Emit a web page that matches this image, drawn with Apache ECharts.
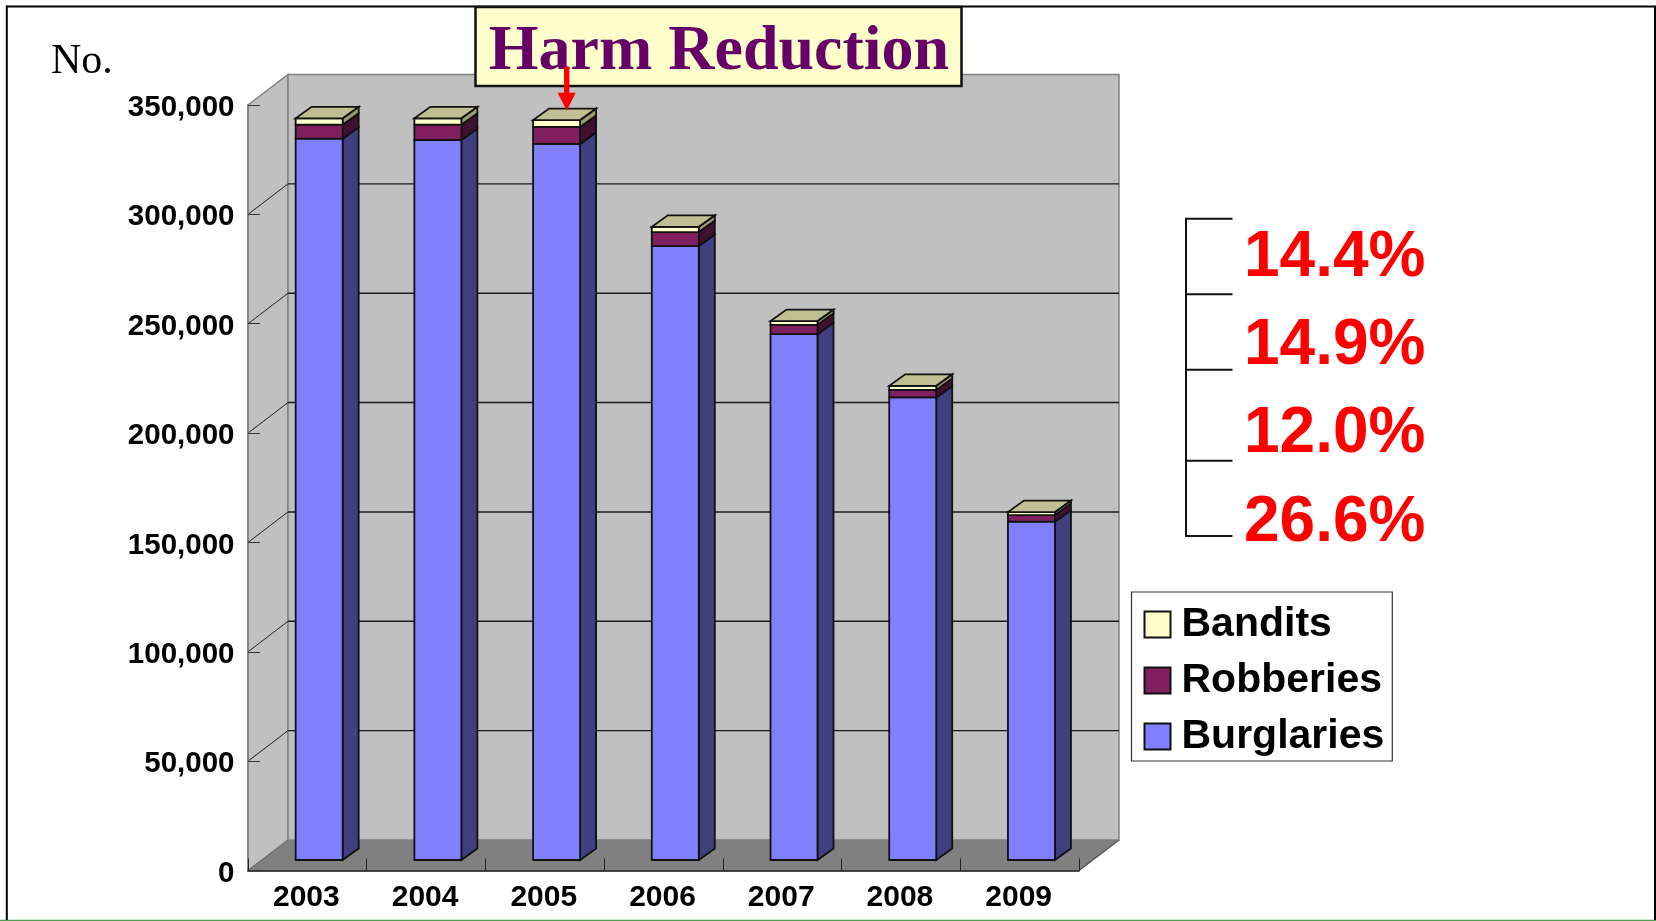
<!DOCTYPE html>
<html>
<head>
<meta charset="utf-8">
<title>Harm Reduction</title>
<script src="https://cdn.jsdelivr.net/npm/echarts@6/dist/echarts.min.js"></script>
<style>
  html, body { margin: 0; padding: 0; background: #fff; }
  #chart { width: 1656px; height: 921px; }
</style>
</head>
<body>
<div id="chart"></div>
<script>
// Recorded cases per year
const years = ['2003', '2004', '2005', '2006', '2007', '2008', '2009'];
const burglaries = [329800, 329200, 327400, 280700, 240400, 211500, 154700];
const robberies = [6400, 7000, 7800, 6400, 4300, 3400, 3000];
const bandits = [2900, 2900, 3100, 2400, 1700, 1900, 1400];
const gridValues = [50000, 100000, 150000, 200000, 250000, 300000];
const declines = ['14.4%', '14.9%', '12.0%', '26.6%'];

// Pseudo-3D geometry, in pixels
const WALL_DX = 40, WALL_DY = -30.5;
const BAR_SHIFT_X = 11.8, BAR_SHIFT_Y = -10.5;
const BAR_W = 47, SIDE_DX = 16, SIDE_DY = -11.5;

const INK = '#111111';
const EDGE = '#808080';

function poly(points, fill, stroke, lineWidth) {
  return {
    type: 'polygon',
    silent: true,
    shape: { points },
    style: { fill, stroke: stroke || 'none', lineWidth: lineWidth === undefined ? 1.8 : lineWidth }
  };
}

function segment(x1, y1, x2, y2, stroke, lineWidth) {
  return {
    type: 'line',
    silent: true,
    shape: { x1, y1, x2, y2 },
    style: { stroke, lineWidth: lineWidth || 1 }
  };
}

// Back wall, side wall and floor behind the bars
function renderWalls(params) {
  const c = params.coordSys;
  const l = c.x, t = c.y, r = c.x + c.width, b = c.y + c.height;
  const dx = WALL_DX, dy = WALL_DY;
  return {
    type: 'group',
    children: [
      poly([[l, t], [l + dx, t + dy], [l + dx, b + dy], [l, b]], '#C0C0C0', EDGE, 1.5),
      poly([[l + dx, t + dy], [r + dx, t + dy], [r + dx, b + dy], [l + dx, b + dy]], '#C0C0C0', EDGE, 1.5),
      poly([[l, b], [l + dx, b + dy], [r + dx, b + dy], [r, b]], '#808080', 'none', 0),
      segment(l, b, l + dx, b + dy, '#6a6a6a', 1),
      segment(r, b, r + dx, b + dy, '#555555', 1.5)
    ]
  };
}

// One gridline: across the back wall, then down the side wall to the axis
function renderGridline(params, api) {
  const c = params.coordSys;
  const y = api.coord([0, api.value(0)])[1];
  const l = c.x, r = c.x + c.width;
  return {
    type: 'group',
    children: [
      segment(l, y, l + WALL_DX, y + WALL_DY, '#222222', 1),
      segment(l + WALL_DX, y + WALL_DY, r + WALL_DX, y + WALL_DY, '#1a1a1a', 1.4)
    ]
  };
}

// One stack segment: front face, side face and, on the top segment, the cap
function makeSegmentRenderer(front, side, cap) {
  return function (params, api) {
    const i = api.value(0);
    const low = api.coord([i, api.value(1)]);
    const high = api.coord([i, api.value(2)]);
    const x0 = low[0] + BAR_SHIFT_X - BAR_W / 2;
    const x1 = x0 + BAR_W;
    const yb = low[1] + BAR_SHIFT_Y;
    const yt = high[1] + BAR_SHIFT_Y;
    const children = [
      poly([[x1, yb], [x1 + SIDE_DX, yb + SIDE_DY], [x1 + SIDE_DX, yt + SIDE_DY], [x1, yt]], side, INK),
      poly([[x0, yb], [x1, yb], [x1, yt], [x0, yt]], front, INK)
    ];
    if (cap) {
      children.push(poly([[x0, yt], [x1, yt], [x1 + SIDE_DX, yt + SIDE_DY], [x0 + SIDE_DX, yt + SIDE_DY]], cap, INK));
    }
    return { type: 'group', children };
  };
}

// Cumulative [category, base, top] rows for one level of the stack
function stackRows(values, below) {
  return values.map((v, i) => {
    const base = below.reduce((sum, arr) => sum + arr[i], 0);
    return [i, base, base + v];
  });
}

function stackSeries(name, rows, front, side, cap) {
  return {
    name,
    type: 'custom',
    z: 5,
    clip: false,
    silent: true,
    itemStyle: { color: front, borderColor: INK, borderWidth: 1.2 },
    encode: { x: 0, y: [1, 2] },
    data: rows,
    renderItem: makeSegmentRenderer(front, side, cap)
  };
}

const chart = echarts.init(document.getElementById('chart'), null, { renderer: 'canvas' });

const sansBold = { fontFamily: 'Liberation Sans', fontWeight: 'bold' };
const bracketX0 = 1186, bracketX1 = 1232.5;
const bracketYs = [218.7, 294.3, 369.7, 460.7, 536];
const declineBaselines = [275, 363.3, 451.7, 540];

const graphics = [
  // Slide frame
  { type: 'rect', z: 1, silent: true, shape: { x: 0, y: 919, width: 1656, height: 1 }, style: { fill: '#cfe3cf' } },
  { type: 'rect', z: 1, silent: true, shape: { x: 0, y: 920, width: 1656, height: 1 }, style: { fill: '#4f9a55' } },
  { type: 'line', z: 1, silent: true, shape: { x1: 6.8, y1: 6.6, x2: 1655, y2: 6.6 }, style: { stroke: '#000', lineWidth: 2 } },
  { type: 'line', z: 1, silent: true, shape: { x1: 6.8, y1: 5.6, x2: 6.8, y2: 920 }, style: { stroke: '#000', lineWidth: 2 } },
  { type: 'line', z: 1, silent: true, shape: { x1: 1655, y1: 5.6, x2: 1655, y2: 920 }, style: { stroke: '#000', lineWidth: 2 } },
  // Axis caption
  {
    type: 'text', z: 100, silent: true,
    style: { x: 51, y: 62, text: 'No.', fill: '#000', font: '42px "Liberation Serif"', verticalAlign: 'middle' }
  },
  // Title box
  {
    type: 'rect', z: 100, silent: true,
    shape: { x: 475.5, y: 7, width: 486, height: 79 },
    style: { fill: '#FFFFCC', stroke: '#111', lineWidth: 2.5 }
  },
  {
    type: 'text', z: 101, silent: true,
    style: { x: 719, y: 52, text: 'Harm Reduction', fill: '#660066', font: 'bold 64px "Liberation Serif"', align: 'center', verticalAlign: 'middle' }
  },
  // Arrow pointing at 2005
  {
    type: 'polygon', z: 102, silent: true,
    shape: { points: [[564, 66.7], [569.4, 66.7], [569.4, 92.7], [575.7, 92.7], [566.7, 110.7], [557.7, 92.7], [564, 92.7]] },
    style: { fill: '#FF0000' }
  },
  // Bracket spanning the year-on-year declines
  {
    type: 'line', z: 100, silent: true,
    shape: { x1: bracketX0, y1: bracketYs[0] - 1, x2: bracketX0, y2: bracketYs[4] + 1 },
    style: { stroke: '#111', lineWidth: 2 }
  }
];
bracketYs.forEach((y) => {
  graphics.push({
    type: 'line', z: 100, silent: true,
    shape: { x1: bracketX0, y1: y, x2: bracketX1, y2: y },
    style: { stroke: '#111', lineWidth: 2 }
  });
});
declines.forEach((label, i) => {
  graphics.push({
    type: 'text', z: 100, silent: true,
    style: {
      x: 1244, y: declineBaselines[i] - 17,
      text: label, fill: '#FF0000', font: 'bold 64px "Liberation Sans"', verticalAlign: 'middle'
    }
  });
});

chart.setOption({
  animation: false,
  backgroundColor: '#FFFFFF',
  grid: { left: 248, top: 105, width: 831, height: 765.5 },
  xAxis: {
    type: 'category',
    data: years,
    z: 3,
    axisLine: { show: true, lineStyle: { color: '#111', width: 1.6 } },
    axisTick: { show: true, inside: true, length: 12, alignWithLabel: false, lineStyle: { color: '#222', width: 1 } },
    axisLabel: { color: '#000', fontSize: 30, margin: 12, padding: [0, 2, 0, 0], ...sansBold },
    splitLine: { show: false }
  },
  yAxis: {
    type: 'value',
    min: 0,
    max: 350000,
    interval: 50000,
    z: 3,
    axisLine: { show: true, lineStyle: { color: EDGE, width: 1.5 } },
    axisTick: { show: true, inside: true, length: 12, lineStyle: { color: '#333', width: 1 } },
    axisLabel: {
      margin: 13.5,
      formatter: (v) => '{tick|' + v.toLocaleString('en-US') + '}',
      rich: { tick: { color: '#000', fontSize: 29.5, padding: [6, 0, 0, 0], ...sansBold } }
    },
    splitLine: { show: false }
  },
  legend: {
    orient: 'vertical',
    left: 1131.5,
    top: 592,
    padding: [12, 8, 4, 12],
    itemWidth: 26,
    itemHeight: 26,
    itemGap: 15,
    icon: 'rect',
    backgroundColor: '#FFFFFF',
    borderColor: '#333',
    borderWidth: 1.2,
    selectedMode: false,
    data: ['Bandits', 'Robberies', 'Burglaries'],
    textStyle: { color: '#000', fontSize: 41, lineHeight: 30, padding: [0, 0, 0, 6], ...sansBold }
  },
  graphic: { elements: graphics },
  series: [
    {
      type: 'custom', name: 'walls', z: 1, clip: false, silent: true,
      data: [[0]], encode: { y: 0 }, renderItem: renderWalls
    },
    {
      type: 'custom', name: 'gridlines', z: 2, clip: false, silent: true,
      data: gridValues.map((v) => [v]), encode: { y: 0 }, renderItem: renderGridline
    },
    stackSeries('Burglaries', stackRows(burglaries, []), '#8080FF', '#404080'),
    stackSeries('Robberies', stackRows(robberies, [burglaries]), '#802060', '#401030'),
    stackSeries('Bandits', stackRows(bandits, [burglaries, robberies]), '#FFFFCC', '#999975', '#BFBF93')
  ]
});
</script>
</body>
</html>
